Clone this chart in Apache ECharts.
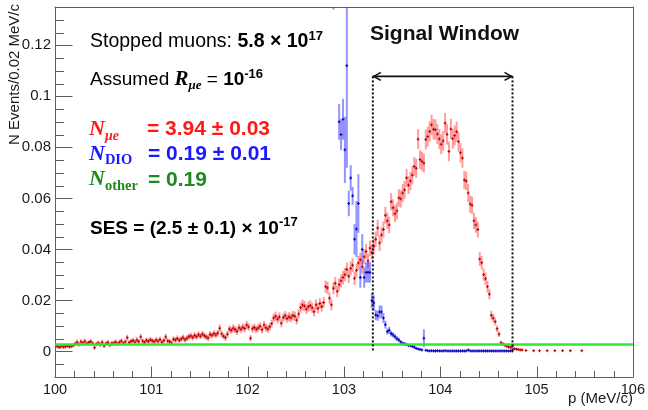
<!DOCTYPE html>
<html>
<head>
<meta charset="utf-8">
<script src="https://cdn.jsdelivr.net/npm/echarts@6/dist/echarts.min.js"></script>
<style>
html, body { margin: 0; padding: 0; background: #fff; }
#chart { width: 648px; height: 410px; }
</style>
</head>
<body>
<div id="chart"></div>
<script>
// Histogram binning: 0.02 MeV/c bins starting at 100 MeV/c
const binLow = 100;
const binWidth = 0.02;

// Conversion-electron (signal) spectrum, one value per bin from 100.00 MeV/c
const signalCounts = [
  0.0022,0.0019,0.0017,0.0021,0.0018,0.0020,0.0023,0.0019,0.0021,0.0024,
  0.0030,0.0036,0.0028,0.0038,0.0033,0.0040,0.0031,0.0035,0.0039,0.0032,
  0.0015,0.0029,0.0033,0.0027,0.0036,0.0022,0.0031,0.0035,0.0026,0.0032,
  0.0033,0.0037,0.0030,0.0036,0.0041,0.0032,0.0038,0.0054,0.0035,0.0040,
  0.0043,0.0037,0.0045,0.0039,0.0057,0.0041,0.0036,0.0044,0.0040,0.0046,
  0.0042,0.0038,0.0045,0.0040,0.0047,0.0036,0.0043,0.0057,0.0041,0.0039,
  0.0033,0.0048,0.0045,0.0051,0.0044,0.0049,0.0054,0.0046,0.0052,0.0058,
  0.0061,0.0055,0.0063,0.0058,0.0066,0.0060,0.0068,0.0062,0.0057,0.0053,
  0.0067,0.0063,0.0070,0.0065,0.0072,0.0091,0.0069,0.0060,0.0054,0.0068,
  0.0088,0.0083,0.0091,0.0086,0.0079,0.0093,0.0087,0.0095,0.0090,0.0104,
  0.0096,0.0052,0.0089,0.0094,0.0087,0.0092,0.0099,0.0085,0.0104,0.0093,
  0.0088,0.0097,0.0109,0.0131,0.0138,0.0127,0.0135,0.0111,0.0133,0.0140,
  0.0129,0.0136,0.0132,0.0141,0.0138,0.0123,0.0147,0.0172,0.0182,0.0178,
  0.0166,0.0175,0.0180,0.0171,0.0156,0.0183,0.0169,0.0188,0.0176,0.0192,
  0.0254,0.0249,0.0209,0.0183,0.0248,0.0267,0.0236,0.0262,0.0277,0.0290,
  0.0301,0.0322,0.0295,0.0326,0.0338,0.0287,0.0318,0.0347,0.0359,0.0332,
  0.0371,0.0392,0.0355,0.0405,0.0388,0.0412,0.0440,0.0484,0.0425,0.0457,
  0.0478,0.0534,0.0512,0.0496,0.0587,0.0563,0.0540,0.0551,0.0602,0.0598,
  0.0621,0.0633,0.0680,0.0652,0.0668,0.0691,0.0725,0.0718,0.0832,0.0752,
  0.0745,0.0738,0.0831,0.0842,0.0862,0.0888,0.0871,0.0869,0.0852,0.0833,
  0.0812,0.0825,0.0895,0.0851,0.0784,0.0872,0.0834,0.0846,0.0861,0.0822,
  0.0779,0.0758,0.0672,0.0668,0.0621,0.0578,0.0573,0.0512,0.0496,0.0478,
  0.0362,0.0348,0.0301,0.0285,0.0254,0.0225,0.0142,0.0131,0.0117,0.0089,
  0.0068,0.0034,0.0029,0.0025,0.0021,0.0018,0.0016,0.0021,0.0011,0.0009,
  0.0008,0.0006,0.0006,null,0.0004,null,null,null,0.0003,null,
  null,0.0003,null,null,null,0.0003,null,null,null,0.0003,
  null,null,null,0.0003,null,null,null,0.0003,null,null,
  null,null,null,0.0003,null
];
const signalErrors = [
  0.0008,0.0008,0.0007,0.0008,0.0008,0.0008,0.0009,0.0008,0.0008,0.0009,
  0.0009,0.0010,0.0009,0.0010,0.0009,0.0010,0.0009,0.0009,0.0010,0.0009,
  0.0007,0.0009,0.0009,0.0009,0.0010,0.0008,0.0009,0.0010,0.0009,0.0009,
  0.0009,0.0010,0.0009,0.0010,0.0010,0.0009,0.0010,0.0012,0.0009,0.0010,
  0.0010,0.0010,0.0011,0.0010,0.0012,0.0010,0.0010,0.0011,0.0010,0.0011,
  0.0011,0.0010,0.0011,0.0010,0.0011,0.0010,0.0011,0.0012,0.0011,0.0010,
  0.0010,0.0011,0.0011,0.0012,0.0011,0.0011,0.0012,0.0011,0.0012,0.0012,
  0.0012,0.0012,0.0013,0.0012,0.0013,0.0012,0.0013,0.0012,0.0012,0.0012,
  0.0013,0.0012,0.0013,0.0013,0.0013,0.0015,0.0013,0.0012,0.0012,0.0013,
  0.0014,0.0014,0.0015,0.0014,0.0014,0.0015,0.0014,0.0015,0.0015,0.0016,
  0.0015,0.0012,0.0015,0.0015,0.0014,0.0015,0.0015,0.0014,0.0016,0.0015,
  0.0015,0.0015,0.0016,0.0017,0.0018,0.0017,0.0018,0.0016,0.0017,0.0018,
  0.0017,0.0018,0.0017,0.0018,0.0018,0.0017,0.0018,0.0020,0.0021,0.0020,
  0.0019,0.0020,0.0020,0.0020,0.0019,0.0021,0.0020,0.0021,0.0020,0.0021,
  0.0024,0.0024,0.0022,0.0021,0.0024,0.0025,0.0023,0.0025,0.0025,0.0026,
  0.0026,0.0027,0.0026,0.0027,0.0027,0.0026,0.0027,0.0028,0.0028,0.0027,
  0.0029,0.0029,0.0028,0.0030,0.0029,0.0030,0.0030,0.0032,0.0031,0.0031,
  0.0032,0.0033,0.0032,0.0032,0.0034,0.0033,0.0033,0.0033,0.0034,0.0034,
  0.0035,0.0035,0.0036,0.0035,0.0036,0.0036,0.0037,0.0037,0.0039,0.0037,
  0.0037,0.0037,0.0039,0.0039,0.0040,0.0040,0.0040,0.0040,0.0039,0.0039,
  0.0039,0.0039,0.0040,0.0040,0.0038,0.0040,0.0039,0.0039,0.0040,0.0039,
  0.0038,0.0038,0.0036,0.0036,0.0035,0.0034,0.0034,0.0032,0.0031,0.0031,
  0.0027,0.0026,0.0024,0.0024,0.0023,0.0021,0.0017,0.0016,0.0015,0.0013,
  0.0011,0.0008,0.0007,0.0007,0.0006,0.0006,0.0005,0.0006,0.0004,0.0004,
  0.0003,0.0003,0.0003,null,0.0002,null,null,null,0.0002,null,
  null,0.0002,null,null,null,0.0002,null,null,null,0.0002,
  null,null,null,0.0002,null,null,null,0.0002,null,null,
  null,null,null,0.0002,null
];

// Decay-in-orbit background, first entry is the bin starting at 102.88 MeV/c
const dioFirstBin = 144;
const dioCounts = [
  0.152,null,null,0.090,0.085,0.091,0.079,0.112,0.058,0.068,
  0.061,0.044,0.048,0.058,0.029,0.040,0.029,0.031,0.031,0.031,
  0.020,0.019,0.0143,0.0140,0.0155,0.0155,0.0131,0.0105,0.0078,0.0083,
  0.0070,0.0065,0.0058,0.0050,0.0045,0.0037,0.0032,0.0030,0.0027,0.0024,
  0.0023,0.0020,0.0017,0.0012,0.0010,0.0008,0.0006,0.0052,0.0005,0.0003,
  0.0002,0.0003,0.0002,0.0002,0.0003,0.0002,0.0002,0.0002,0.0003,0.0002,
  0.0002,0.0002,0.0002,0.0002,0.0002,0.0002,0.0002,0.0002,0.0002,0.0002,
  0.0006,0.0002,0.0002,0.0002,0.0002,0.0002,0.0002,0.0002,0.0002,0.0002,
  0.0002,0.0002,0.0002,0.0002,0.0002,0.0002,0.0002,0.0002,0.0002,0.0002,
  0.0002,0.0002,0.0002,0.0002
];
const dioErrors = [
  0.018,null,null,0.007,0.006,0.008,0.013,0.040,0.005,0.005,
  0.0035,0.006,0.011,0.0115,0.004,0.006,0.004,0.004,0.004,0.004,
  0.003,0.003,0.002,0.002,0.0025,0.0025,0.002,0.0015,0.0012,0.0014,
  0.0011,0.0010,0.0010,0.0009,0.0008,0.0007,0.0006,0.0006,0.0005,0.0005,
  0.0005,0.0004,0.0004,0.0003,0.0003,0.0003,0.0002,0.0035,0.0002,0.0002,
  0.0001,0.0001,0.0001,0.0001,0.0001,0.0001,0.0001,0.0001,0.0001,0.0001,
  0.0001,0.0001,0.0001,0.0001,0.0001,0.0001,0.0001,0.0001,0.0001,0.0001,
  0.0003,0.0001,0.0001,0.0001,0.0001,0.0001,0.0001,0.0001,0.0001,0.0001,
  0.0001,0.0001,0.0001,0.0001,0.0001,0.0001,0.0001,0.0001,0.0001,0.0001,
  0.0001,0.0001,0.0001,0.0001
];

// Flat level of the other backgrounds
const otherLevel = 0.0027;

// Momentum window for the signal search
const windowLow = 103.3;
const windowHigh = 104.75;
const windowArrowLevel = 0.1078;

// Axis ranges and ticks
const xRange = [100, 106];
const yRange = [-0.01, 0.135];
const xLabelValues = [100, 101, 102, 103, 104, 105, 106];
const yLabelValues = [0, 0.02, 0.04, 0.06, 0.08, 0.1, 0.12];
const xMinorStep = 0.2;
const yMinorStep = 0.005;

const SANS = "'Liberation Sans', Arial, Helvetica, sans-serif";
const SERIF = "'Liberation Serif', 'Times New Roman', serif";
const AXIS_GREY = '#5e5e5e';

function histogramPoints(counts, errors, firstBin) {
  const pts = [];
  counts.forEach((v, i) => {
    if (v === null) return;
    const centre = binLow + (firstBin + i + 0.5) * binWidth;
    pts.push([centre, v, errors[i]]);
  });
  return pts;
}

function errorBarSeries(points, pale, dark, z) {
  return {
    type: 'custom',
    clip: true,
    z: z,
    silent: true,
    animation: false,
    dimensions: ['p', 'n', 'err'],
    encode: { x: 0, y: 1 },
    data: points,
    renderItem(params, api) {
      const x = api.value(0), y = api.value(1), e = api.value(2);
      const hi = api.coord([x, y + e]);
      const lo = api.coord([x, y - e]);
      const left = api.coord([x - binWidth / 2, y]);
      const right = api.coord([x + binWidth / 2, y]);
      const cx = hi[0], cy = left[1];
      return {
        type: 'group',
        children: [
          { type: 'line', shape: { x1: cx, y1: hi[1], x2: cx, y2: lo[1] },
            style: { stroke: pale, lineWidth: 2 } },
          { type: 'line', shape: { x1: left[0] - 0.4, y1: cy, x2: right[0] + 0.4, y2: cy },
            style: { stroke: dark, lineWidth: 1 } },
          { type: 'line', shape: { x1: cx, y1: cy - 1.5, x2: cx, y2: cy + 1.5 },
            style: { stroke: dark, lineWidth: 1 } }
        ]
      };
    }
  };
}

// Tick positions along both frame edges, with their lengths in px
const xTicks = [];
for (let i = 0; i * xMinorStep <= xRange[1] - xRange[0] + 1e-9; i++) {
  const v = +(xRange[0] + i * xMinorStep).toFixed(4);
  const major = xLabelValues.some(t => Math.abs(t - v) < 1e-6);
  xTicks.push([v, major ? 10.5 : 6]);
}
const yTicks = [];
for (let i = 0; yRange[0] + i * yMinorStep <= yRange[1] + 1e-9; i++) {
  const v = +(yRange[0] + i * yMinorStep).toFixed(4);
  const major = yLabelValues.some(t => Math.abs(t - v) < 1e-6);
  yTicks.push([v, major ? 17.5 : 9]);
}

const frameAxis = {
  type: 'value',
  axisLine: { show: true, onZero: false, lineStyle: { color: AXIS_GREY, width: 1 } },
  axisTick: { show: false },
  axisLabel: { show: false },
  splitLine: { show: false }
};

const chart = echarts.init(document.getElementById('chart'), null, { renderer: 'canvas' });

const option = {
  animation: false,
  backgroundColor: '#fff',
  grid: { left: 55, right: 14, top: 7, bottom: 33 },
  xAxis: [
    {
      type: 'value',
      min: xRange[0], max: xRange[1], interval: 1,
      axisLine: { show: true, onZero: false, lineStyle: { color: AXIS_GREY, width: 1 } },
      axisTick: { show: false },
      splitLine: { show: false },
      axisLabel: { color: '#1a1a1a', fontSize: 14.5, fontFamily: SANS, margin: 5 }
    },
    Object.assign({}, frameAxis, { position: 'top', min: xRange[0], max: xRange[1] })
  ],
  yAxis: [
    {
      type: 'value',
      min: yRange[0], max: yRange[1],
      axisLine: { show: true, onZero: false, lineStyle: { color: AXIS_GREY, width: 1 } },
      axisTick: { show: false },
      splitLine: { show: false },
      axisLabel: {
        customValues: yLabelValues,
        color: '#1a1a1a', fontSize: 15, fontFamily: SANS, margin: 4,
        formatter: v => String(parseFloat(Number(v).toFixed(3)))
      }
    },
    Object.assign({}, frameAxis, { position: 'right', min: yRange[0], max: yRange[1] })
  ],
  series: [
    errorBarSeries(histogramPoints(signalCounts, signalErrors, 0),
                   'rgba(255,60,60,0.5)', '#b40000', 2),
    errorBarSeries(histogramPoints(dioCounts, dioErrors, dioFirstBin),
                   'rgba(60,60,255,0.55)', '#0000b4', 3),
    {
      type: 'line',
      z: 4,
      silent: true,
      symbol: 'none',
      data: [[xRange[0], otherLevel], [xRange[1], otherLevel]],
      lineStyle: { color: '#2fe82f', width: 2.5 }
    },
    {
      // signal-window markers plus the inward tick marks of the frame
      type: 'custom',
      z: 5,
      silent: true,
      clip: true,
      data: [[windowLow, windowHigh, windowArrowLevel]],
      encode: { x: [0, 1], y: 2 },
      renderItem(params, api) {
        const lo = api.value(0), hi = api.value(1), lev = api.value(2);
        const a = api.coord([lo, lev]), b = api.coord([hi, lev]);
        const a0 = api.coord([lo, 0]), b0 = api.coord([hi, 0]);
        const head = 8, half = 4;
        const ink = '#111';
        const children = [
          { type: 'line', shape: { x1: a[0], y1: a[1], x2: a0[0], y2: a0[1] },
            style: { stroke: ink, lineWidth: 2, lineDash: [2, 2] } },
          { type: 'line', shape: { x1: b[0], y1: b[1], x2: b0[0], y2: b0[1] },
            style: { stroke: ink, lineWidth: 2, lineDash: [2, 2] } },
          { type: 'line', shape: { x1: a[0], y1: a[1], x2: b[0], y2: b[1] },
            style: { stroke: ink, lineWidth: 1.6 } },
          { type: 'polyline', shape: { points: [[a[0] + head, a[1] - half], [a[0] + 1, a[1]], [a[0] + head, a[1] + half]] },
            style: { stroke: ink, lineWidth: 1.6, fill: null } },
          { type: 'polyline', shape: { points: [[b[0] - head, b[1] - half], [b[0] - 1, b[1]], [b[0] - head, b[1] + half]] },
            style: { stroke: ink, lineWidth: 1.6, fill: null } }
        ];
        xTicks.forEach(([v, len]) => {
          const p = api.coord([v, yRange[0]]);
          const x = Math.round(p[0]) + 0.5;
          children.push({ type: 'line', shape: { x1: x, y1: p[1], x2: x, y2: p[1] - len },
                          style: { stroke: AXIS_GREY, lineWidth: 1 } });
        });
        yTicks.forEach(([v, len]) => {
          const p = api.coord([xRange[0], v]);
          const y = Math.round(p[1]) + 0.5;
          children.push({ type: 'line', shape: { x1: p[0], y1: y, x2: p[0] + len, y2: y },
                          style: { stroke: AXIS_GREY, lineWidth: 1 } });
        });
        return { type: 'group', children: children };
      }
    }
  ],
  graphic: [
    // axis titles
    {
      type: 'text', x: 15, y: 4, rotation: Math.PI / 2, silent: true,
      style: { text: 'N Events/0.02 MeV/c', fontFamily: SANS, fontSize: 15,
               fill: '#1a1a1a', align: 'right', verticalAlign: 'middle' }
    },
    {
      type: 'text', x: 633, y: 399, silent: true,
      style: { text: 'p (MeV/c)', fontFamily: SANS, fontSize: 15,
               fill: '#1a1a1a', align: 'right', verticalAlign: 'middle' }
    },
    // window label
    {
      type: 'text', x: 370, y: 34.5, silent: true,
      style: { text: 'Signal Window', fontFamily: SANS, fontSize: 21, fontWeight: 'bold',
               fill: '#111', align: 'left', verticalAlign: 'middle' }
    },
    // exposure
    {
      type: 'text', x: 90, y: 29.6, silent: true,
      style: {
        text: '{n|Stopped muons: }{b|5.8 × 10}{sup|17}',
        align: 'left', verticalAlign: 'top', fill: '#000',
        rich: {
          n: { fontFamily: SANS, fontSize: 19.5, lineHeight: 24, verticalAlign: 'middle', fill: '#000' },
          b: { fontFamily: SANS, fontSize: 19.5, fontWeight: 'bold', lineHeight: 24, verticalAlign: 'middle', fill: '#000' },
          sup: { fontFamily: SANS, fontSize: 13, fontWeight: 'bold', lineHeight: 16, verticalAlign: 'top', fill: '#000' }
        }
      }
    },
    // assumed conversion rate
    {
      type: 'text', x: 90, y: 68, silent: true,
      style: {
        text: '{n|Assumed }{r|R}{sub|μe}{n| = }{b|10}{sup|-16}',
        align: 'left', verticalAlign: 'top', fill: '#000',
        rich: {
          n: { fontFamily: SANS, fontSize: 19, lineHeight: 24, verticalAlign: 'middle', fill: '#000' },
          r: { fontFamily: SERIF, fontSize: 21, fontStyle: 'italic', fontWeight: 'bold', lineHeight: 24, verticalAlign: 'middle', fill: '#000' },
          sub: { fontFamily: SERIF, fontSize: 13, fontStyle: 'italic', fontWeight: 'bold', lineHeight: 16, verticalAlign: 'bottom', fill: '#000' },
          b: { fontFamily: SANS, fontSize: 19, fontWeight: 'bold', lineHeight: 24, verticalAlign: 'middle', fill: '#000' },
          sup: { fontFamily: SANS, fontSize: 13, fontWeight: 'bold', lineHeight: 16, verticalAlign: 'top', fill: '#000' }
        }
      }
    },
    // expected signal
    {
      type: 'text', x: 89, y: 115.6, silent: true,
      style: {
        text: '{n|N}{s|μe}', align: 'left', verticalAlign: 'top', fill: '#ff1a1a',
        rich: {
          n: { fontFamily: SERIF, fontSize: 22, fontStyle: 'italic', fontWeight: 'bold', lineHeight: 28, verticalAlign: 'middle', fill: '#ff1a1a' },
          s: { fontFamily: SERIF, fontSize: 14, fontStyle: 'italic', fontWeight: 'bold', lineHeight: 18, verticalAlign: 'bottom', fill: '#ff1a1a' }
        }
      }
    },
    {
      type: 'text', x: 147, y: 129.4, silent: true,
      style: { text: '= 3.94 ± 0.03', fontFamily: SANS, fontSize: 21, fontWeight: 'bold',
               fill: '#ff1a1a', align: 'left', verticalAlign: 'middle' }
    },
    // decay-in-orbit background
    {
      type: 'text', x: 89, y: 140, silent: true,
      style: {
        text: '{n|N}{s|DIO}', align: 'left', verticalAlign: 'top', fill: '#1a1aff',
        rich: {
          n: { fontFamily: SERIF, fontSize: 22, fontStyle: 'italic', fontWeight: 'bold', lineHeight: 28, verticalAlign: 'middle', fill: '#1a1aff' },
          s: { fontFamily: SERIF, fontSize: 14.5, fontWeight: 'bold', lineHeight: 13, verticalAlign: 'bottom', fill: '#1a1aff' }
        }
      }
    },
    {
      type: 'text', x: 148, y: 153.8, silent: true,
      style: { text: '= 0.19 ± 0.01', fontFamily: SANS, fontSize: 21, fontWeight: 'bold',
               fill: '#1a1aff', align: 'left', verticalAlign: 'middle' }
    },
    // other backgrounds
    {
      type: 'text', x: 89, y: 165.6, silent: true,
      style: {
        text: '{n|N}{s|other}', align: 'left', verticalAlign: 'top', fill: '#1f8a1f',
        rich: {
          n: { fontFamily: SERIF, fontSize: 22, fontStyle: 'italic', fontWeight: 'bold', lineHeight: 28, verticalAlign: 'middle', fill: '#1f8a1f' },
          s: { fontFamily: SERIF, fontSize: 14.5, fontWeight: 'bold', lineHeight: 11, verticalAlign: 'bottom', fill: '#1f8a1f' }
        }
      }
    },
    {
      type: 'text', x: 148, y: 180, silent: true,
      style: { text: '= 0.19', fontFamily: SANS, fontSize: 21, fontWeight: 'bold',
               fill: '#1f8a1f', align: 'left', verticalAlign: 'middle' }
    },
    // single-event sensitivity
    {
      type: 'text', x: 90, y: 216.4, silent: true,
      style: {
        text: '{b|SES = (2.5 ± 0.1) × 10}{sup|-17}',
        align: 'left', verticalAlign: 'top', fill: '#000',
        rich: {
          b: { fontFamily: SANS, fontSize: 19, fontWeight: 'bold', lineHeight: 24, verticalAlign: 'middle', fill: '#000' },
          sup: { fontFamily: SANS, fontSize: 13, fontWeight: 'bold', lineHeight: 16, verticalAlign: 'top', fill: '#000' }
        }
      }
    }
  ]
};

chart.setOption(option);
</script>
</body>
</html>
